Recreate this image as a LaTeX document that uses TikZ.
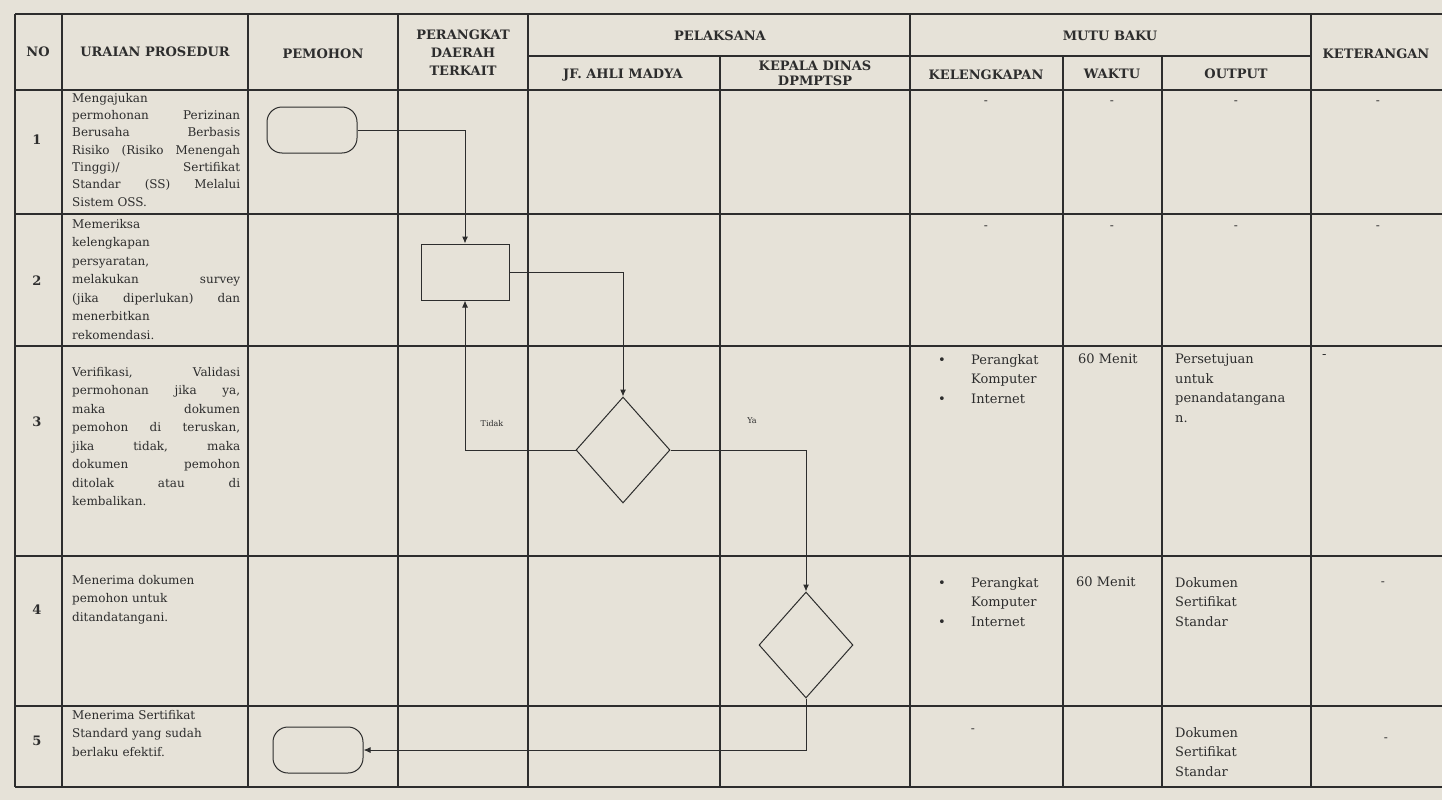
\documentclass[tikz,border=0pt]{standalone}
\usepackage{fontspec}
\setmainfont{DejaVu Serif}
\usepackage{tikz}
\usetikzlibrary{arrows.meta,positioning,shapes.geometric}
\definecolor{kertas}{RGB}{230,226,216}
\definecolor{tinta}{RGB}{45,45,45}
\hyphenpenalty=10000
\newcommand{\butir}{\makebox[33pt][l]{\textbullet}}

\begin{document}
\begin{tikzpicture}[x=1pt, y=-1pt,
    garis/.style={draw=tinta, line width=1.1pt},
    judul/.style={font=\bfseries\fontsize{13}{18}\selectfont, text=tinta, align=center, inner sep=0pt},
    isi/.style={font=\fontsize{12}{18.5}\selectfont, text=tinta, inner sep=0pt, anchor=north west, align=left},
    mutu/.style={isi, font=\fontsize{13}{19.5}\selectfont},
    terminal/.style={draw=tinta, line width=1pt, rounded corners=15pt, minimum width=90pt, minimum height=46pt},
    proses/.style={draw=tinta, line width=1pt, minimum width=88pt, minimum height=56pt},
    keputusan/.style={draw=tinta, line width=1pt, diamond, minimum width=94pt, minimum height=106pt, inner sep=0pt},
    panah/.style={draw=tinta, line width=1pt, -{Latex[length=7pt,width=6pt]}},
    lbl/.style={font=\fontsize{8}{9}\selectfont, text=tinta, inner sep=0pt}]

  \fill[kertas] (0,0) rectangle (1442,800);
  \useasboundingbox (0,0) rectangle (1442,800);

  % garis tabel
  \foreach \x in {15,62,248,398,528,910,1311}
    \draw[garis] (\x,14) -- (\x,787);
  \foreach \x in {720,1063,1162}
    \draw[garis] (\x,56) -- (\x,787);
  \foreach \y in {14,90,214,346,556,706,787}
    \draw[garis] (15,\y) -- (1442,\y);
  \draw[garis] (528,56) -- (1311,56);

  % kepala tabel
  \node[judul] (hno) at (38,52) {NO};
  \node[judul] (huraian) at (155,52) {URAIAN PROSEDUR};
  \node[judul] (hpemohon) at (323,54) {PEMOHON};
  \node[judul] (hperangkat) at (463,53) {PERANGKAT\\DAERAH\\TERKAIT};
  \node[judul] (hpelaksana) at (720,36) {PELAKSANA};
  \node[judul] (hjf) at (623,75) {JF. AHLI MADYA};
  \node[judul, font=\bfseries\fontsize{13}{15}\selectfont] (hkadis) at (815,73) {KEPALA DINAS\\DPMPTSP};
  \node[judul] (hmutu) at (1110,36) {MUTU BAKU};
  \node[judul] (hleng) at (986,75) {KELENGKAPAN};
  \node[judul] (hwaktu) at (1112,74) {WAKTU};
  \node[judul] (houtput) at (1236,74) {OUTPUT};
  \node[judul] (hket) at (1376,54) {KETERANGAN};

  % nomor
  \node[judul] (n1) at (37,140) {1};
  \node[judul] (n2) at (37,281) {2};
  \node[judul] (n3) at (37,422) {3};
  \node[judul] (n4) at (37,610) {4};
  \node[judul] (n5) at (37,741) {5};

  % uraian prosedur
  \node[isi, text width=168pt, align=justify, font=\fontsize{12}{17.3}\selectfont] (u1) at (72,93)
    {Mengajukan\\ permohonan\hfill Perizinan\\ Berusaha\hfill Berbasis\\
     Risiko\hfill (Risiko\hfill Menengah\\ Tinggi)/\hfill Sertifikat\\
     Standar\hfill (SS)\hfill Melalui\\ Sistem OSS.};
  \node[isi, text width=168pt, align=justify] (u2) at (72,219)
    {Memeriksa\\ kelengkapan\\ persyaratan,\\ melakukan\hfill survey\\
     (jika\hfill diperlukan)\hfill dan\\ menerbitkan\\ rekomendasi.};
  \node[isi, text width=168pt, align=justify] (u3) at (72,367)
    {Verifikasi,\hfill Validasi\\ permohonan\hfill jika\hfill ya,\\
     maka\hfill dokumen\\ pemohon\hfill di\hfill teruskan,\\
     jika\hfill tidak,\hfill maka\\ dokumen\hfill pemohon\\
     ditolak\hfill atau\hfill di\\ kembalikan.};
  \node[isi] (u4) at (72,575) {Menerima dokumen\\pemohon untuk\\ditandatangani.};
  \node[isi] (u5) at (72,710) {Menerima Sertifikat\\Standard yang sudah\\berlaku efektif.};

  % mutu baku dan keterangan
  \foreach \x in {986,1112,1236,1378} {
    \node[isi, anchor=center] at (\x,103) {-};
    \node[isi, anchor=center] at (\x,228) {-};
  }
  \node[mutu] (leng3) at (938,354) {\butir Perangkat\\\hspace*{33pt}Komputer\\\butir Internet};
  \node[mutu] (waktu3) at (1078,354) {60 Menit};
  \node[mutu] (out3) at (1175,354) {Persetujuan\\untuk\\penandatangana\\n.};
  \node[mutu] (ket3) at (1322,354) {-};
  \node[mutu] (leng4) at (938,577) {\butir Perangkat\\\hspace*{33pt}Komputer\\\butir Internet};
  \node[mutu] (waktu4) at (1076,577) {60 Menit};
  \node[mutu] (out4) at (1175,577) {Dokumen\\Sertifikat\\Standar};
  \node[isi, anchor=center] (ket4) at (1383,584) {-};
  \node[isi, anchor=center] (leng5) at (973,731) {-};
  \node[mutu] (out5) at (1175,727) {Dokumen\\Sertifikat\\Standar};
  \node[isi, anchor=center] (ket5) at (1386,740) {-};

  % bagan alir
  \node[terminal] (mulai) at (312,130) {};
  \node[proses] (periksa) at (465,272) {};
  \node[keputusan] (verifikasi) at (623,450) {};
  \node[keputusan] (tandatangan) at (806,645) {};
  \node[terminal] (selesai) at (318,750) {};

  \draw[panah] (mulai.east) -| (periksa.north);
  \draw[panah] (periksa.east) -| (verifikasi.north);
  \draw[panah] (verifikasi.west) -| (periksa.south);
  \draw[panah] (verifikasi.east) -| (tandatangan.north);
  \draw[panah] (tandatangan.south) |- (selesai.east);
  \node[lbl] (tidak) at (492,424) {Tidak};
  \node[lbl] (ya) at (752,421) {Ya};
\end{tikzpicture}
\end{document}
